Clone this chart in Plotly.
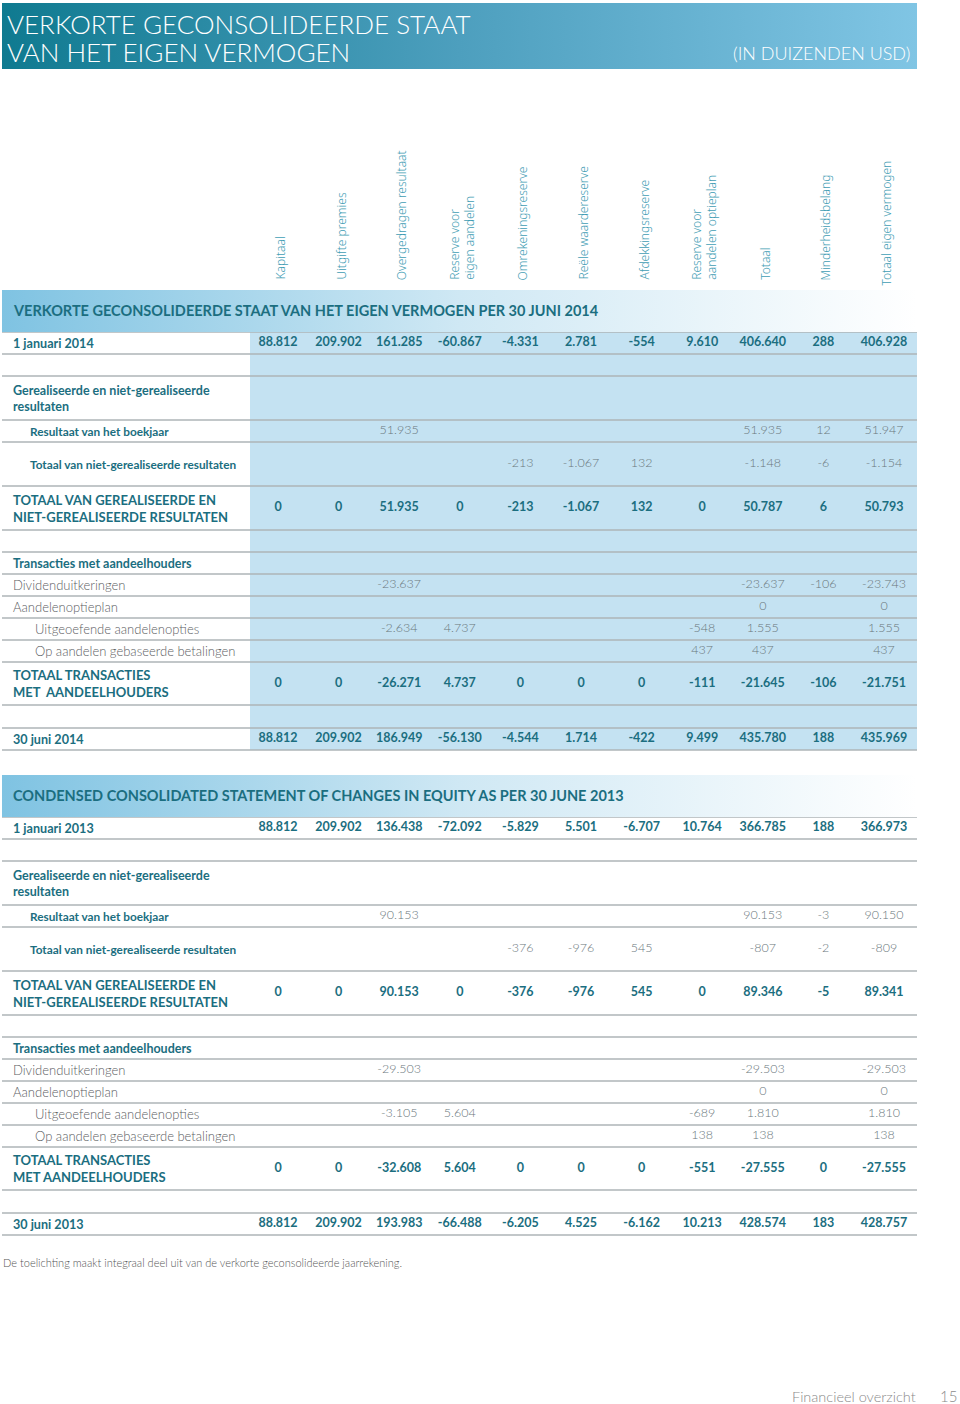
import plotly.graph_objects as go

# ---------------- data ----------------
columns = ["Kapitaal", "Uitgifte premies", "Overgedragen resultaat",
           "Reserve voor<br>eigen aandelen", "Omrekeningsreserve",
           "Reële waardereserve", "Afdekkingsreserve",
           "Reserve voor<br>aandelen optieplan", "Totaal",
           "Minderheidsbelang", "Totaal eigen vermogen"]

N = None
jan_2014 = [88812, 209902, 161285, -60867, -4331, 2781, -554, 9610, 406640, 288, 406928]
res_2014 = [N, N, 51935, N, N, N, N, N, 51935, 12, 51947]
nietgr_2014 = [N, N, N, N, -213, -1067, 132, N, -1148, -6, -1154]
totgr_2014 = [0, 0, 51935, 0, -213, -1067, 132, 0, 50787, 6, 50793]
div_2014 = [N, N, -23637, N, N, N, N, N, -23637, -106, -23743]
optie_2014 = [N, N, N, N, N, N, N, N, 0, N, 0]
uitg_2014 = [N, N, -2634, 4737, N, N, N, -548, 1555, N, 1555]
betal_2014 = [N, N, N, N, N, N, N, 437, 437, N, 437]
tottr_2014 = [0, 0, -26271, 4737, 0, 0, 0, -111, -21645, -106, -21751]
jun_2014 = [88812, 209902, 186949, -56130, -4544, 1714, -422, 9499, 435780, 188, 435969]

jan_2013 = [88812, 209902, 136438, -72092, -5829, 5501, -6707, 10764, 366785, 188, 366973]
res_2013 = [N, N, 90153, N, N, N, N, N, 90153, -3, 90150]
nietgr_2013 = [N, N, N, N, -376, -976, 545, N, -807, -2, -809]
totgr_2013 = [0, 0, 90153, 0, -376, -976, 545, 0, 89346, -5, 89341]
div_2013 = [N, N, -29503, N, N, N, N, N, -29503, N, -29503]
optie_2013 = [N, N, N, N, N, N, N, N, 0, N, 0]
uitg_2013 = [N, N, -3105, 5604, N, N, N, -689, 1810, N, 1810]
betal_2013 = [N, N, N, N, N, N, N, 138, 138, N, 138]
tottr_2013 = [0, 0, -32608, 5604, 0, 0, 0, -551, -27555, 0, -27555]
jun_2013 = [88812, 209902, 193983, -66488, -6205, 4525, -6162, 10213, 428574, 183, 428757]

title_lines = ["VERKORTE GECONSOLIDEERDE STAAT", "VAN HET EIGEN VERMOGEN"]
unit_text = "(IN DUIZENDEN USD)"
section_titles = ["VERKORTE GECONSOLIDEERDE STAAT VAN HET EIGEN VERMOGEN PER 30 JUNI 2014",
                  "CONDENSED CONSOLIDATED STATEMENT OF CHANGES IN EQUITY AS PER 30 JUNE 2013"]
footnote = "De toelichting maakt integraal deel uit van de verkorte geconsolideerde jaarrekening."
footer_text = "Financieel overzicht"
page_number = "15"

# row kinds: date, blank, section, sub, total, plain, plainsub, group
rows_2014 = [
    ("1 januari 2014", "date", jan_2014),
    ("", "blank", None),
    ("Gerealiseerde en niet-gerealiseerde<br>resultaten", "section", None),
    ("Resultaat van het boekjaar", "sub", res_2014),
    ("Totaal van niet-gerealiseerde resultaten", "sub", nietgr_2014),
    ("TOTAAL VAN GEREALISEERDE EN<br>NIET-GEREALISEERDE RESULTATEN", "total", totgr_2014),
    ("", "blank", None),
    ("Transacties met aandeelhouders", "group", None),
    ("Dividenduitkeringen", "plain", div_2014),
    ("Aandelenoptieplan", "plain", optie_2014),
    ("Uitgeoefende aandelenopties", "plainsub", uitg_2014),
    ("Op aandelen gebaseerde betalingen", "plainsub", betal_2014),
    ("TOTAAL TRANSACTIES<br>MET  AANDEELHOUDERS", "total", tottr_2014),
    ("", "blank", None),
    ("30 juni 2014", "date", jun_2014),
]
rows_2013 = [
    ("1 januari 2013", "date", jan_2013),
    ("", "blank", None),
    ("Gerealiseerde en niet-gerealiseerde<br>resultaten", "section", None),
    ("Resultaat van het boekjaar", "sub", res_2013),
    ("Totaal van niet-gerealiseerde resultaten", "sub", nietgr_2013),
    ("TOTAAL VAN GEREALISEERDE EN<br>NIET-GEREALISEERDE RESULTATEN", "total", totgr_2013),
    ("", "blank", None),
    ("Transacties met aandeelhouders", "group", None),
    ("Dividenduitkeringen", "plain", div_2013),
    ("Aandelenoptieplan", "plain", optie_2013),
    ("Uitgeoefende aandelenopties", "plainsub", uitg_2013),
    ("Op aandelen gebaseerde betalingen", "plainsub", betal_2013),
    ("TOTAAL TRANSACTIES<br>MET AANDEELHOUDERS", "total", tottr_2013),
    ("", "blank", None),
    ("30 juni 2013", "date", jun_2013),
]

# ---------------- layout / style ----------------
W, H = 960, 1404
FONT = "Lato"
HFONT = "Noto Sans"
TEAL = "#1b6e80"
TEAL_L = "#3f9db4"
GREY_V = "#6a777c"
GREY_L = "#5c6063"
LINE = "#aeb4b7"
BLUE_BG = "#c4e2f2"
X_LEFT, X_RIGHT = 2, 917
COL0, COLSTEP = 278, 60.6
col_x = [COL0 + COLSTEP * i for i in range(len(columns))]
ROW_H = [22, 22, 44, 22, 44, 44, 22, 22, 22, 22, 22, 22, 43, 23, 22]


def fmt(v):
    s = f"{abs(v):,}".replace(",", ".")
    return ("-" if v < 0 else "") + s


fig = go.Figure()
shapes = []
annotations = []


def grad_rect(x0, x1, y0, y1, scale):
    fig.add_trace(go.Scatter(
        x=[x0, x1, x1, x0, x0], y=[y0, y0, y1, y1, y0],
        mode="lines", line=dict(width=0), fill="toself",
        fillgradient=dict(type="horizontal", colorscale=scale),
        hoverinfo="skip", showlegend=False))


# top banner
grad_rect(X_LEFT, X_RIGHT, 3, 69, [[0, "#0f7a90"], [0.5, "#4d9fbe"], [1, "#80c5e4"]])
for i, t in enumerate(title_lines):
    annotations.append(dict(x=5, y=24 + 28 * i, text=t, xanchor="left", yanchor="middle",
                            showarrow=False, font=dict(family=FONT, size=26, color="white", weight=300)))
annotations.append(dict(x=912, y=53, text=unit_text, xanchor="right", yanchor="middle",
                        showarrow=False, font=dict(family=FONT, size=18, color="white", weight=300)))

# column headers
for i, c in enumerate(columns):
    annotations.append(dict(x=col_x[i] + 2, y=288 if i == len(columns) - 1 else 282, text=c,
                            textangle=-90, xanchor="center", yanchor="bottom", showarrow=False,
                            align="left",
                            font=dict(family=HFONT, size=12, color=TEAL_L, weight=300)))


def draw_table(rows, top, title, blue):
    bar_bottom = top + 42
    grad_rect(X_LEFT, X_RIGHT, top, bar_bottom, [[0, "#7fc3e2"], [0.5, "#cfe8f4"], [1, "#ffffff"]])
    annotations.append(dict(x=11, y=top + 20, text=title, xanchor="left", yanchor="middle",
                            showarrow=False, font=dict(family=FONT, size=14.5, color=TEAL, weight=700)))
    bounds = [bar_bottom]
    for h in ROW_H:
        bounds.append(bounds[-1] + h)
    if blue:
        shapes.append(dict(type="rect", x0=250, x1=X_RIGHT, y0=bar_bottom, y1=bounds[-1],
                           fillcolor=BLUE_BG, line=dict(width=0), layer="below"))
    for b in bounds:
        shapes.append(dict(type="line", x0=X_LEFT, x1=X_RIGHT, y0=b, y1=b,
                           line=dict(color=LINE, width=1.6), layer="below"))
    for k, (label, kind, vals) in enumerate(rows):
        yc = (bounds[k] + bounds[k + 1]) / 2
        if kind == "blank":
            continue
        if kind == "date":
            lf = dict(family=FONT, size=12.6, color=TEAL, weight=700)
            lx = 11
        elif kind == "total":
            lf = dict(family=FONT, size=13, color=TEAL, weight=700)
            lx = 11
        elif kind in ("group", "section"):
            lf = dict(family=FONT, size=12.5, color=TEAL, weight=700)
            lx = 11
        elif kind == "sub":
            lf = dict(family=FONT, size=11.8, color=TEAL, weight=700)
            lx = 28
        elif kind == "plain":
            lf = dict(family=FONT, size=13, color=GREY_L, weight=300)
            lx = 11
        else:
            lf = dict(family=FONT, size=13, color=GREY_L, weight=300)
            lx = 33
        annotations.append(dict(x=lx, y=yc, text=label, xanchor="left", yanchor="middle",
                                showarrow=False, align="left", font=lf))
        if vals is None:
            continue
        xs = [col_x[i] for i, v in enumerate(vals) if v is not None]
        ts = [fmt(v) for v in vals if v is not None]
        bold = kind in ("date", "total")
        fig.add_trace(go.Scatter(
            x=xs, y=[yc] * len(xs), text=ts, mode="text", textposition="middle center",
            textfont=dict(family=FONT, size=12.5, color=TEAL if bold else GREY_V,
                          weight=700 if bold else 300),
            hoverinfo="skip", showlegend=False))


draw_table(rows_2014, 290, section_titles[0], True)
draw_table(rows_2013, 775, section_titles[1], False)

annotations.append(dict(x=1, y=1262, text=footnote, xanchor="left", yanchor="middle", showarrow=False,
                        font=dict(family=FONT, size=11, color="#555555", weight=300)))
annotations.append(dict(x=918, y=1396, text=footer_text, xanchor="right", yanchor="middle",
                        showarrow=False, font=dict(family=FONT, size=14.5, color="#8a8a8a", weight=300)))
annotations.append(dict(x=959, y=1396, text=page_number, xanchor="right", yanchor="middle",
                        showarrow=False, font=dict(family=FONT, size=15, color="#8a8a8a", weight=300)))

fig.update_layout(
    width=W, height=H, margin=dict(l=0, r=0, t=0, b=0),
    paper_bgcolor="white", plot_bgcolor="white",
    xaxis=dict(range=[0, W], visible=False, fixedrange=True),
    yaxis=dict(range=[H, 0], visible=False, fixedrange=True),
    shapes=shapes, annotations=annotations, showlegend=False,
)
fig.write_html("out.html", config={"displayModeBar": False},
               post_script="document.body.style.margin='0px';document.body.style.padding='0px';"
                           "document.body.style.overflow='hidden';")
